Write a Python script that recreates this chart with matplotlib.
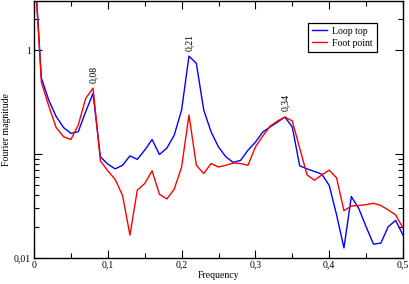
import matplotlib
matplotlib.use("Agg")
import matplotlib.pyplot as plt
from matplotlib.ticker import FixedLocator, FuncFormatter

plt.rcParams['font.family'] = ['Liberation Serif', 'DejaVu Serif']

# frequency grid (0 .. 0.5, step 0.01)
freq = [i / 100 for i in range(51)]

# Fourier magnitude
loop_top = [8.0, 0.54, 0.33, 0.23, 0.18, 0.158, 0.164, 0.255, 0.384, 0.094,
            0.080, 0.072, 0.078, 0.096, 0.089, 0.109, 0.138, 0.099, 0.114, 0.152,
            0.265, 0.875, 0.745, 0.265, 0.163, 0.117, 0.094, 0.083, 0.087, 0.109,
            0.130, 0.163, 0.182, 0.203, 0.227, 0.182, 0.077, 0.072, 0.068, 0.064,
            0.050, 0.026, 0.0125, 0.039, 0.030, 0.020, 0.0136, 0.0139, 0.020, 0.023,
            0.0166]
foot_point = [8.0, 0.49, 0.29, 0.18, 0.147, 0.138, 0.19, 0.343, 0.43, 0.086,
              0.069, 0.057, 0.040, 0.0166, 0.045, 0.052, 0.069, 0.041, 0.037, 0.046,
              0.075, 0.237, 0.078, 0.065, 0.081, 0.075, 0.078, 0.082, 0.081, 0.078,
              0.117, 0.149, 0.186, 0.208, 0.227, 0.208, 0.114, 0.063, 0.056, 0.063,
              0.070, 0.059, 0.0285, 0.0316, 0.032, 0.0326, 0.0336, 0.032, 0.029, 0.026,
              0.0194]

peak_freqs = [0.08, 0.21, 0.34]
peak_labels = ["0,08", "0,21", "0,34"]

fig = plt.figure(figsize=(4.09, 2.84), dpi=100)
ax = fig.add_axes([34 / 409, 26 / 284, 369 / 409, 257.5 / 284])

ax.plot(freq, loop_top, color="#0000ff", lw=1.0, label="Loop top")
ax.plot(freq, foot_point, color="#ff0000", lw=1.0, label="Foot point")

ax.set_yscale("log")
ax.set_xlim(0, 0.5)
ax.set_ylim(0.01, 3.0)

# peak annotations above the higher of the two curves
for f, lab in zip(peak_freqs, peak_labels):
    i = freq.index(f)
    top = max(loop_top[i], foot_point[i])
    ax.annotate(lab, (f, top), xytext=(0, 4), textcoords="offset points",
                rotation=90, ha="center", va="bottom", fontsize=7)

ax.xaxis.set_major_locator(FixedLocator([0, 0.1, 0.2, 0.3, 0.4, 0.5]))
ax.xaxis.set_minor_locator(FixedLocator([0.05, 0.15, 0.25, 0.35, 0.45]))
ax.xaxis.set_major_formatter(FuncFormatter(lambda v, p: ("%g" % round(v, 2)).replace(".", ",")))

ax.yaxis.set_major_locator(FixedLocator([0.01, 0.1, 1]))
ax.yaxis.set_minor_locator(FixedLocator([0.02, 0.03, 0.04, 0.05, 0.06, 0.07, 0.08, 0.09, 2]))
ax.yaxis.set_major_formatter(FuncFormatter(lambda v, p: {0.01: "0,01", 1: "1"}.get(round(v, 2), "")))
ax.yaxis.set_minor_formatter(FuncFormatter(lambda v, p: ""))

ax.tick_params(which="both", direction="in", top=True, right=True, labelsize=7, pad=2, width=0.8)
ax.tick_params(which="major", length=6)
ax.tick_params(which="minor", length=3.5)
for s in ax.spines.values():
    s.set_linewidth(1.0)

ax.set_xlabel("Frequency", fontsize=7, labelpad=1)
ax.set_ylabel("Fourier magnitude", fontsize=7, labelpad=2)

leg = ax.legend(loc="upper right", bbox_to_anchor=(0.942, 0.932), fontsize=7,
                fancybox=False, framealpha=1, edgecolor="black",
                handlelength=1.6, borderpad=0.4, labelspacing=0.3, handletextpad=0.5)
leg.get_frame().set_linewidth(0.9)

fig.savefig("out.png", dpi=100)
